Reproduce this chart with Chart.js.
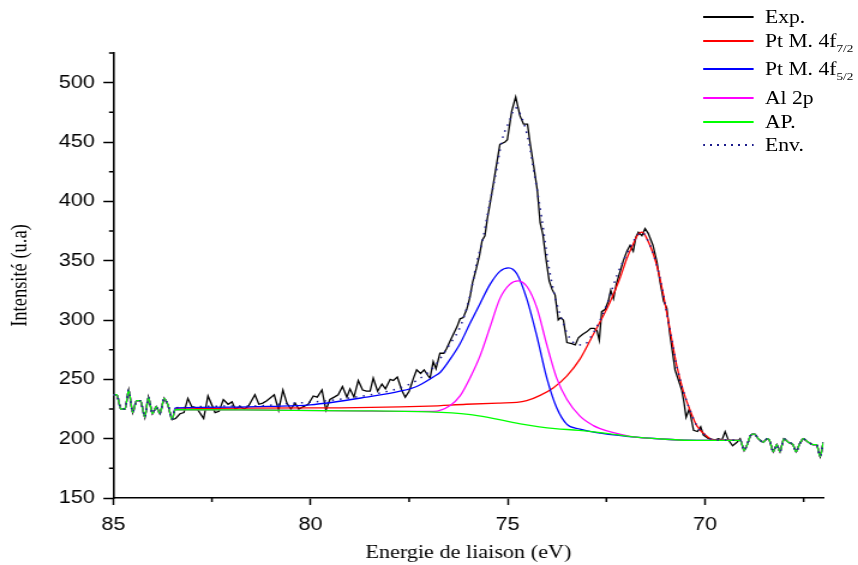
<!DOCTYPE html>
<html>
<head>
<meta charset="utf-8">
<script src="https://cdn.jsdelivr.net/npm/chart.js@4.4.1/dist/chart.umd.min.js"></script>
<style>
  html, body { margin: 0; padding: 0; background: #fff; overflow: hidden; }
  /* the original figure is stretched 1.2x horizontally, so draw at 715px and stretch */
  #wrap { position: absolute; left: 0; top: 0; width: 715px; height: 565px; transform: scaleX(1.2); transform-origin: 0 0; }
  #legend { position: absolute; left: 0; top: 0; width: 715px; height: 160px; font-family: "Liberation Serif", serif; font-size: 18px; color: #000; }
  .lg-row { position: absolute; left: 586px; height: 22px; white-space: nowrap; }
  .lg-line { position: absolute; left: 0; top: 10px; width: 42px; height: 2px; }
  .lg-text { position: absolute; left: 51.5px; top: 0; line-height: 22px; }
  .lg-text sub { font-size: 11px; vertical-align: -5px; line-height: 0; }
</style>
</head>
<body>
<div id="wrap">
  <canvas id="xpsChart"></canvas>
  <div id="legend"></div>
</div>
<script>
// axis ticks
const xTicks = [85, 80, 75, 70];
const xMinor = [82.5, 77.5, 72.5, 67.5];
const yTicks = [150, 200, 250, 300, 350, 400, 450, 500];
const yMinor = [175, 225, 275, 325, 375, 425, 475, 525];

// experimental spectrum (binding energy eV / intensity)
const expE = [85.00, 84.91, 84.81, 84.70, 84.61, 84.51, 84.41, 84.31, 84.20, 84.11, 84.01, 83.91, 83.82, 83.71, 83.61, 83.51,
  83.42, 83.31, 83.21, 83.11, 83.01, 82.89, 82.71, 82.60, 82.42, 82.32, 82.21, 82.09, 81.99, 81.91, 81.79, 81.68, 81.58,
  81.41, 81.31, 81.21, 81.11, 80.92, 80.81, 80.70, 80.60, 80.50, 80.39, 80.30, 80.18, 80.06, 79.93, 79.83, 79.71, 79.61,
  79.51, 79.40, 79.30, 79.19, 79.08, 79.00, 78.90, 78.79, 78.68, 78.58, 78.49, 78.41, 78.30, 78.19, 78.10, 77.98, 77.90,
  77.80, 77.69, 77.60, 77.50, 77.39, 77.31, 77.21, 77.12, 77.02, 76.97, 76.89, 76.82, 76.72, 76.62, 76.55, 76.48, 76.38,
  76.29, 76.21, 76.13, 76.04, 75.96, 75.89, 75.80, 75.72, 75.65, 75.58, 75.52, 75.44, 75.32, 75.24, 75.20, 75.07, 75.01,
  74.90, 74.80, 74.69, 74.60, 74.50, 74.43, 74.33, 74.25, 74.18, 74.11, 74.03, 73.95, 73.88, 73.80, 73.72, 73.66, 73.59,
  73.50, 73.38, 73.29, 73.21, 73.10, 73.00, 72.90, 72.81, 72.74, 72.68, 72.62, 72.53, 72.45, 72.39, 72.32, 72.25, 72.17,
  72.07, 71.98, 71.90, 71.82, 71.75, 71.69, 71.60, 71.52, 71.44, 71.32, 71.22, 71.14, 71.05, 70.97, 70.89, 70.76, 70.67,
  70.59, 70.53, 70.48, 70.40, 70.29, 70.19, 70.11, 70.04, 69.91, 69.74, 69.66, 69.57, 69.49, 69.41, 69.30, 69.19, 69.11,
  69.01, 68.93, 68.84, 68.75, 68.65, 68.52, 68.43, 68.37, 68.27, 68.18, 68.10, 68.00, 67.89, 67.77, 67.69, 67.61, 67.51,
  67.38, 67.27, 67.17, 67.08, 67.00];
const expI = [237, 237, 225, 225, 241, 222, 232, 232, 218, 235, 221, 227, 221, 234, 228, 216,
  217, 221, 222, 234, 227, 226, 217, 236, 222, 223, 233, 229, 231, 225, 227, 225, 227,
  237, 229, 230, 232, 237, 224, 241, 230, 225, 230, 225, 227, 229, 236, 235, 241, 224,
  233, 235, 237, 244, 235, 242, 235, 249, 241, 240, 240, 251, 240, 246, 242, 250, 249,
  252, 241, 235, 240, 251, 258, 255, 258, 253, 251, 265, 259, 272, 272, 276, 281, 288,
  294, 301, 302, 309, 319, 332, 343, 354, 367, 371, 385, 400, 424, 440, 448, 450, 452,
  476, 488, 472, 465, 465, 448, 427, 409, 382, 372, 351, 333, 326, 321, 300, 302, 300,
  281, 280, 279, 285, 288, 290, 293, 293, 291, 283, 307, 309, 316, 325, 318, 330, 339,
  350, 358, 363, 358, 370, 374, 371, 377, 373, 363, 349, 332, 316, 310, 288, 258, 249,
  241, 230, 218, 225, 207, 206, 210, 203, 200, 199, 200, 199, 206, 199, 194, 197, 200,
  190, 195, 203, 204, 200, 197, 200, 199, 189, 195, 189, 200, 197, 195, 189, 195, 200,
  197, 195, 195, 185, 197];

// fitted components between the noisy ends
const apE = [83.43, 81.0, 79.0, 77.0, 76.0, 75.5, 75.0, 74.6, 74.2, 73.8, 73.2, 72.5, 71.8, 71.0, 70.2, 69.1];
const apI = [224.5, 224, 223.5, 222.5, 220.5, 218, 214.5, 212, 210, 208.5, 207, 204.5, 201.5, 199.5, 198.5, 198.5];

const pt52E = [83.43, 82.0, 81.0, 80.01, 78.58, 77.73, 77.31, 76.89, 76.71, 76.46, 76.21, 75.96, 75.70, 75.45, 75.20,
  74.98, 74.77, 74.52, 74.26, 74.01, 73.76, 73.50, 73.17, 72.75, 72.0, 71.0, 70.2, 69.1];
const pt52I = [226, 226.5, 227.2, 228.5, 235, 240, 244, 252, 256, 267, 280, 297, 314, 330, 341,
  344, 339, 318, 286, 251, 226, 212, 208, 205, 202, 199.5, 198.5, 198.5];

const al2pE = [83.43, 81.0, 79.0, 77.5, 76.89, 76.46, 76.21, 75.96, 75.70, 75.45, 75.20, 74.95, 74.74, 74.51, 74.26,
  74.01, 73.76, 73.50, 73.17, 72.83, 72.66, 72.32, 71.9, 71.0, 70.2, 69.1];
const al2pI = [224.5, 224, 223.5, 223, 223, 228, 236, 251, 270, 294, 318, 330, 333, 328, 310,
  279, 251, 233, 219, 211, 208.5, 205, 202, 199.5, 198.5, 198.5];

const pt72E = [83.43, 80.01, 77.0, 76.05, 75.20, 74.77, 74.52, 74.18, 73.84, 73.50, 73.17, 72.83, 72.41, 72.16, 71.98,
  71.82, 71.72, 71.60, 71.48, 71.23, 71.06, 70.89, 70.72, 70.55, 70.38, 70.21, 69.95, 69.79, 69.1];
const pt72I = [225, 226, 227.5, 229, 230, 230.5, 232, 236.5, 243, 253, 267, 288, 315, 335, 352,
  364, 371, 374, 369, 347, 322, 292, 262, 240, 224, 211, 202, 199, 198.5];

const envE = [83.43, 81.40, 80.56, 79.72, 78.87, 78.03, 77.60, 77.31, 76.89, 76.46, 76.21, 75.96, 75.79, 75.62, 75.53,
  75.45, 75.32, 75.15, 74.94, 74.81, 74.64, 74.48, 74.31, 74.14, 73.97, 73.80, 73.59, 73.50, 73.29, 73.08, 72.87,
  72.70, 72.49, 72.24, 71.98, 71.72, 71.60, 71.48, 71.23, 71.06, 70.89, 70.72, 70.55, 70.38, 70.21, 69.95, 69.79, 69.1];
const envI = [226, 227.6, 229.6, 231.5, 235, 240, 244.4, 249, 260, 280, 294, 320, 348, 370, 386,
  400, 420, 451, 469, 479, 470, 452, 420, 386, 347, 319, 297, 289, 280, 279, 287,
  297, 313, 337, 356, 371, 374, 369, 347, 322, 292, 262, 240, 224, 211, 202, 199, 198.5];

// legend texts
const seriesNames = ['Exp.', 'Pt M. 4f', 'Pt M. 4f', 'Al 2p', 'AP.', 'Env.'];
const seriesSubs = ['', '7/2', '5/2', '', '', ''];
const seriesColors = ['#000000', '#ff0000', '#0000ff', '#ff00ff', '#00ff00', '#1c1c8c'];
const legendRowY = [17, 41, 69, 98, 122, 145];

const toPts = (es, is) => es.map((e, i) => ({ x: e, y: is[i] }));
const expPts = toPts(expE, expI);
// the fitted curves share the raw data outside the fit window
const leftEdge = expPts.filter(p => p.x >= 83.5);
const rightEdge = expPts.filter(p => p.x <= 69.02);
const withEdges = (es, is) => [...leftEdge, ...toPts(es, is), ...rightEdge];

const mkSet = (i, data, order, extra) => Object.assign({
  label: seriesNames[i] + seriesSubs[i],
  data: data,
  borderColor: seriesColors[i],
  borderWidth: 1.3,
  pointRadius: 0,
  fill: false,
  order: order,
  cubicInterpolationMode: 'monotone'
}, extra || {});

const datasets = [
  mkSet(0, expPts, 5, { cubicInterpolationMode: 'default', tension: 0 }),
  mkSet(1, withEdges(pt72E, pt72I), 4),
  mkSet(2, withEdges(pt52E, pt52I), 3),
  mkSet(3, withEdges(al2pE, al2pI), 2),
  mkSet(4, withEdges(apE, apI), 1),
  mkSet(5, withEdges(envE, envI), 0, { borderDash: [1.5, 5], borderWidth: 1.5 })
];

// short minor ticks between the labelled ones
const minorTicks = {
  id: 'minorTicks',
  afterDraw(chart) {
    const { ctx } = chart;
    const x = chart.scales.x, y = chart.scales.y;
    ctx.save();
    ctx.strokeStyle = '#000';
    ctx.lineWidth = 1.5;
    ctx.beginPath();
    xMinor.forEach(v => {
      const px = x.getPixelForValue(v);
      ctx.moveTo(px, x.top);
      ctx.lineTo(px, x.top + 4);
    });
    yMinor.forEach(v => {
      const py = y.getPixelForValue(v);
      ctx.moveTo(y.right, py);
      ctx.lineTo(y.right - 3.6, py);
    });
    ctx.stroke();
    ctx.restore();
  }
};

window.addEventListener('load', () => {
  const chart = new Chart(document.getElementById('xpsChart'), {
    type: 'line',
    data: { datasets: datasets },
    options: {
      responsive: true,
      maintainAspectRatio: false,
      animation: false,
      layout: { padding: { top: 53, right: 28.9, bottom: 0, left: 0 } },
      plugins: { legend: { display: false }, tooltip: { enabled: false } },
      scales: {
        x: {
          type: 'linear', reverse: true, min: 67, max: 85,
          afterBuildTicks: s => { s.ticks = xTicks.map(v => ({ value: v })); },
          afterFit: s => { s.height = 67; },
          border: { display: true, color: '#000', width: 1.6 },
          grid: { display: true, drawOnChartArea: false, drawTicks: true, tickLength: 7, tickColor: '#000', tickWidth: 1.5 },
          ticks: { color: '#000', font: { family: '"Liberation Sans", Arial, sans-serif', size: 18 }, padding: 9, maxRotation: 0 },
          title: { display: true, text: 'Energie de liaison (eV)', color: '#000',
                   font: { family: '"Liberation Serif", serif', size: 18.5 }, padding: { top: 0, bottom: 1 } }
        },
        y: {
          type: 'linear', min: 150, max: 525,
          afterBuildTicks: s => { s.ticks = yTicks.map(v => ({ value: v })); },
          afterFit: s => { s.width = 94.4; },
          border: { display: true, color: '#000', width: 1.6 },
          grid: { display: true, drawOnChartArea: false, drawTicks: true, tickLength: 8.3, tickColor: '#000', tickWidth: 1.5 },
          ticks: { color: '#000', font: { family: '"Liberation Sans", Arial, sans-serif', size: 18 }, padding: 7 },
          title: { display: true, text: 'Intensité (u.a)', color: '#000',
                   font: { family: '"Liberation Serif", serif', size: 18.5 }, padding: { top: 5.6, bottom: 0 } }
        }
      }
    },
    plugins: [minorTicks]
  });

  // html legend built from the datasets, so the subscripts stay real text
  const legendEl = document.getElementById('legend');
  chart.data.datasets.forEach((ds, i) => {
    const row = document.createElement('div');
    row.className = 'lg-row';
    row.style.top = (legendRowY[i] - 11) + 'px';
    const line = document.createElement('div');
    line.className = 'lg-line';
    if (ds.borderDash) {
      line.style.backgroundImage = 'repeating-linear-gradient(to right, ' + ds.borderColor + ' 0px, ' + ds.borderColor + ' 1.5px, transparent 1.5px, transparent 5.8px)';
    } else {
      line.style.backgroundColor = ds.borderColor;
    }
    const txt = document.createElement('div');
    txt.className = 'lg-text';
    txt.textContent = seriesNames[i];
    if (seriesSubs[i]) {
      const sub = document.createElement('sub');
      sub.textContent = seriesSubs[i];
      txt.appendChild(sub);
    }
    row.appendChild(line);
    row.appendChild(txt);
    legendEl.appendChild(row);
  });
});
</script>
</body>
</html>
